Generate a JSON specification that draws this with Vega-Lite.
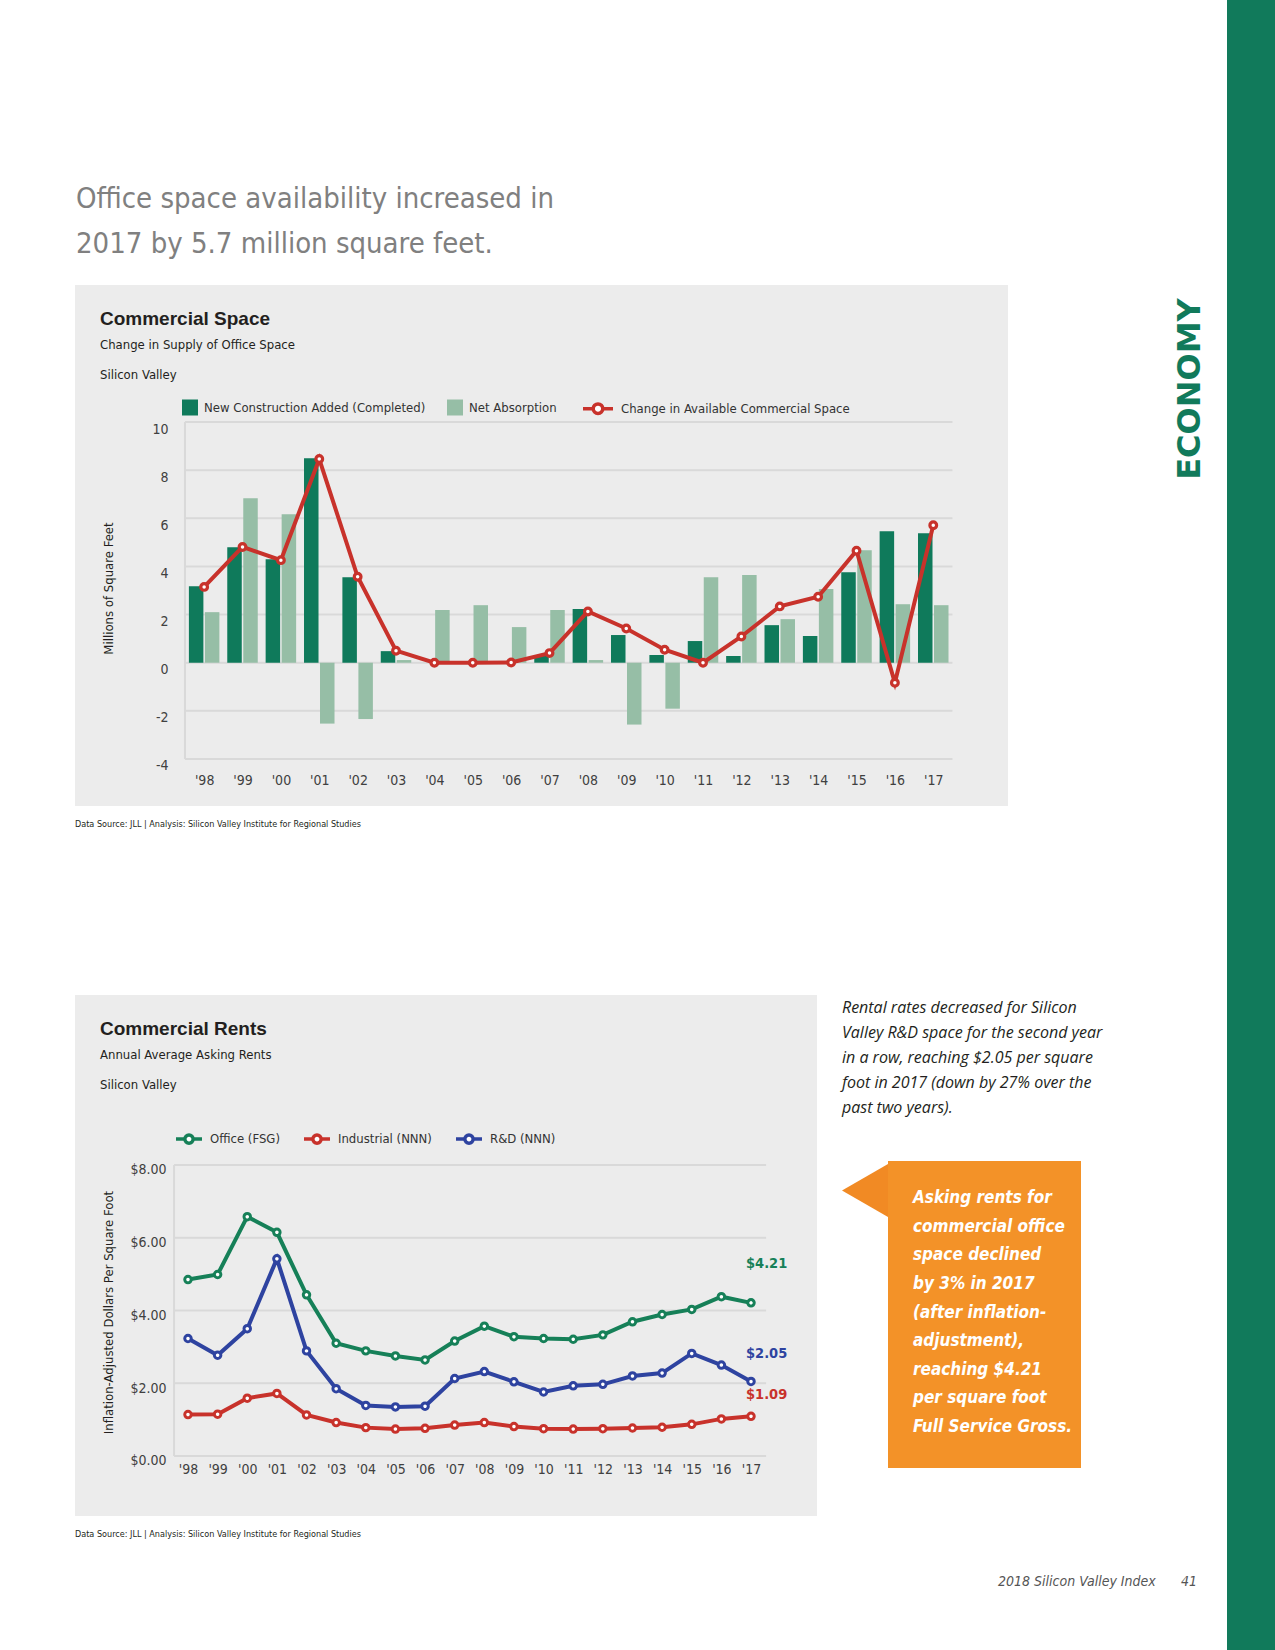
{
  "$schema": "https://vega.github.io/schema/vega-lite/v6.json",
  "background": "white",
  "padding": {"left": 75, "top": 0, "right": 0, "bottom": 0},
  "spacing": 0,
  "resolve": {"scale": {"fill": "independent", "stroke": "independent"}, "legend": {"fill": "independent", "stroke": "independent"}},
  "config": {
    "view": {"stroke": null},
    "font": "DejaVu Sans Condensed, Liberation Sans",
    "axis": {"labelFont": "DejaVu Sans Condensed, Liberation Sans", "titleFont": "DejaVu Sans Condensed, Liberation Sans"},
    "legend": {"labelFont": "DejaVu Sans Condensed, Liberation Sans"}
  },
  "datasets": {
    "space": [
      {"year": 1998, "construction": 3.18, "absorption": 2.10, "change": 3.15},
      {"year": 1999, "construction": 4.80, "absorption": 6.83, "change": 4.81},
      {"year": 2000, "construction": 4.30, "absorption": 6.17, "change": 4.26},
      {"year": 2001, "construction": 8.49, "absorption": -2.53, "change": 8.46},
      {"year": 2002, "construction": 3.55, "absorption": -2.34, "change": 3.57},
      {"year": 2003, "construction": 0.48, "absorption": 0.11, "change": 0.50},
      {"year": 2004, "construction": 0, "absorption": 2.19, "change": 0},
      {"year": 2005, "construction": 0, "absorption": 2.39, "change": 0},
      {"year": 2006, "construction": 0, "absorption": 1.48, "change": 0.01},
      {"year": 2007, "construction": 0.32, "absorption": 2.19, "change": 0.40},
      {"year": 2008, "construction": 2.23, "absorption": 0.11, "change": 2.13},
      {"year": 2009, "construction": 1.15, "absorption": -2.57, "change": 1.42},
      {"year": 2010, "construction": 0.32, "absorption": -1.91, "change": 0.54},
      {"year": 2011, "construction": 0.90, "absorption": 3.55, "change": 0},
      {"year": 2012, "construction": 0.28, "absorption": 3.64, "change": 1.09},
      {"year": 2013, "construction": 1.56, "absorption": 1.81, "change": 2.34},
      {"year": 2014, "construction": 1.11, "absorption": 3.06, "change": 2.74},
      {"year": 2015, "construction": 3.76, "absorption": 4.67, "change": 4.65},
      {"year": 2016, "construction": 5.46, "absorption": 2.43, "change": -0.83},
      {"year": 2017, "construction": 5.38, "absorption": 2.39, "change": 5.71}
    ],
    "rents": [
      {"year": 1998, "office": 4.85, "industrial": 1.14, "rd": 3.23},
      {"year": 1999, "office": 4.99, "industrial": 1.15, "rd": 2.77},
      {"year": 2000, "office": 6.58, "industrial": 1.59, "rd": 3.50},
      {"year": 2001, "office": 6.15, "industrial": 1.72, "rd": 5.42},
      {"year": 2002, "office": 4.43, "industrial": 1.13, "rd": 2.89},
      {"year": 2003, "office": 3.10, "industrial": 0.92, "rd": 1.85},
      {"year": 2004, "office": 2.89, "industrial": 0.78, "rd": 1.39},
      {"year": 2005, "office": 2.75, "industrial": 0.74, "rd": 1.35},
      {"year": 2006, "office": 2.64, "industrial": 0.76, "rd": 1.37},
      {"year": 2007, "office": 3.16, "industrial": 0.85, "rd": 2.13},
      {"year": 2008, "office": 3.57, "industrial": 0.92, "rd": 2.32},
      {"year": 2009, "office": 3.28, "industrial": 0.81, "rd": 2.04},
      {"year": 2010, "office": 3.23, "industrial": 0.75, "rd": 1.76},
      {"year": 2011, "office": 3.21, "industrial": 0.74, "rd": 1.93},
      {"year": 2012, "office": 3.33, "industrial": 0.75, "rd": 1.97},
      {"year": 2013, "office": 3.69, "industrial": 0.77, "rd": 2.20},
      {"year": 2014, "office": 3.89, "industrial": 0.79, "rd": 2.28},
      {"year": 2015, "office": 4.03, "industrial": 0.87, "rd": 2.82},
      {"year": 2016, "office": 4.38, "industrial": 1.02, "rd": 2.50},
      {"year": 2017, "office": 4.21, "industrial": 1.09, "rd": 2.05}
    ],
    "grid1": [{"v": -4}, {"v": -2}, {"v": 0}, {"v": 2}, {"v": 4}, {"v": 6}, {"v": 8}, {"v": 10}],
    "grid2": [{"v": 0}, {"v": 2}, {"v": 4}, {"v": 6}, {"v": 8}]
  },
  "hconcat": [
    {
      "spacing": 0,
      "resolve": {"scale": {"fill": "independent", "stroke": "independent"}, "legend": {"fill": "independent", "stroke": "independent"}},
      "vconcat": [
        {
          "width": 933, "height": 285,
          "data": {"values": []},
          "mark": {"type": "point", "opacity": 0},
          "title": {
            "text": ["Office space availability increased in", "2017 by 5.7 million square feet."],
            "orient": "bottom", "anchor": "start", "frame": "group", "offset": -100, "dx": 1,
            "font": "DejaVu Sans Condensed, Liberation Sans", "fontSize": 29, "fontWeight": "normal", "color": "#808080", "lineHeight": 45
          }
        },
        {
          "spacing": 0,
          "resolve": {"scale": {"fill": "independent", "stroke": "independent"}, "legend": {"fill": "independent", "stroke": "independent"}},
          "hconcat": [
            {
              "width": 933, "height": 521,
              "view": {"fill": "#ececec", "stroke": null},
              "title": {
                "text": "Commercial Space",
                "subtitle": ["Change in Supply of Office Space", "Silicon Valley"],
                "orient": "top", "anchor": "start", "frame": "group", "offset": -96.5, "dx": 25,
                "font": "Liberation Sans", "fontSize": 19, "fontWeight": "bold", "color": "#231f20",
                "subtitleFont": "DejaVu Sans Condensed, Liberation Sans", "subtitleFontSize": 13, "subtitleColor": "#231f20",
                "subtitleLineHeight": 30, "subtitlePadding": 9.5
              },
              "data": {"name": "space"},
              "layer": [
                {
                  "data": {"name": "grid1"},
                  "mark": {"type": "rule", "color": "#d9d9d9", "strokeWidth": 2},
                  "encoding": {
                    "y": {"field": "v", "type": "quantitative", "scale": {"domain": [-5.953, 15.692], "nice": false, "zero": false},
                      "axis": {"orient": "left", "offset": -106, "values": [-4, -2, 0, 2, 4, 6, 8, 10], "labelExpr": "toString(datum.value)", "grid": false, "domain": false, "ticks": false, "labelPadding": 13, "labelFontSize": 14, "labelColor": "#404040", "labelBaseline": "middle", "labelOffset": 7, "labelFlush": false, "labelOverlap": false, "labelBound": false, "title": "Millions of Square Feet", "titleX": -73, "titleY": 303, "titleAngle": 270, "titleAlign": "center", "titleBaseline": "middle", "titleFontSize": 13, "titleFontWeight": "normal", "titleColor": "#231f20"}},
                    "x": {"datum": 1997.5, "type": "quantitative", "scale": {"domain": [1994.765, 2018.8175], "nice": false, "zero": false},
                      "axis": {"orient": "bottom", "offset": -47, "title": null, "values": [1998, 1999, 2000, 2001, 2002, 2003, 2004, 2005, 2006, 2007, 2008, 2009, 2010, 2011, 2012, 2013, 2014, 2015, 2016, 2017], "labelExpr": "\"'\" + substring(toString(datum.value), 2)", "grid": false, "domain": false, "ticks": false, "labelPadding": 14, "labelFontSize": 14, "labelColor": "#404040", "labelFlush": false, "labelOverlap": false, "labelBound": false}},
                    "x2": {"datum": 2017.5}
                  }
                },
                {
                  "data": {"values": [{"line": "y axis"}]},
                  "mark": {"type": "rule", "color": "#d9d9d9", "strokeWidth": 2},
                  "encoding": {
                    "x": {"datum": 1997.5, "type": "quantitative",
                      "axis": {"orient": "bottom", "offset": -47, "title": null, "values": [1998, 1999, 2000, 2001, 2002, 2003, 2004, 2005, 2006, 2007, 2008, 2009, 2010, 2011, 2012, 2013, 2014, 2015, 2016, 2017], "labelExpr": "\"'\" + substring(toString(datum.value), 2)", "grid": false, "domain": false, "ticks": false, "labelPadding": 14, "labelFontSize": 14, "labelColor": "#404040", "labelFlush": false, "labelOverlap": false, "labelBound": false}},
                    "y": {"datum": -4, "type": "quantitative",
                      "axis": {"orient": "left", "offset": -106, "values": [-4, -2, 0, 2, 4, 6, 8, 10], "labelExpr": "toString(datum.value)", "grid": false, "domain": false, "ticks": false, "labelPadding": 13, "labelFontSize": 14, "labelColor": "#404040", "labelBaseline": "middle", "labelOffset": 7, "labelFlush": false, "labelOverlap": false, "labelBound": false, "title": "Millions of Square Feet", "titleX": -73, "titleY": 303, "titleAngle": 270, "titleAlign": "center", "titleBaseline": "middle", "titleFontSize": 13, "titleFontWeight": "normal", "titleColor": "#231f20"}},
                    "y2": {"datum": 10}
                  }
                },
                {
                  "mark": {"type": "bar", "width": 14.5, "xOffset": -8},
                  "encoding": {
                    "x": {"field": "year", "type": "quantitative",
                      "axis": {"orient": "bottom", "offset": -47, "title": null, "values": [1998, 1999, 2000, 2001, 2002, 2003, 2004, 2005, 2006, 2007, 2008, 2009, 2010, 2011, 2012, 2013, 2014, 2015, 2016, 2017], "labelExpr": "\"'\" + substring(toString(datum.value), 2)", "grid": false, "domain": false, "ticks": false, "labelPadding": 14, "labelFontSize": 14, "labelColor": "#404040", "labelFlush": false, "labelOverlap": false, "labelBound": false}},
                    "y": {"field": "construction", "type": "quantitative",
                      "axis": {"orient": "left", "offset": -106, "values": [-4, -2, 0, 2, 4, 6, 8, 10], "labelExpr": "toString(datum.value)", "grid": false, "domain": false, "ticks": false, "labelPadding": 13, "labelFontSize": 14, "labelColor": "#404040", "labelBaseline": "middle", "labelOffset": 7, "labelFlush": false, "labelOverlap": false, "labelBound": false, "title": "Millions of Square Feet", "titleX": -73, "titleY": 303, "titleAngle": 270, "titleAlign": "center", "titleBaseline": "middle", "titleFontSize": 13, "titleFontWeight": "normal", "titleColor": "#231f20"}},
                    "y2": {"datum": 0},
                    "fill": {
                      "datum": "New Construction Added (Completed)", "type": "nominal",
                      "scale": {"domain": ["New Construction Added (Completed)", "Net Absorption"], "range": ["#0f7a5b", "#96bea6"]},
                      "legend": {
                        "orient": "none", "legendX": 107, "legendY": 114.5, "direction": "horizontal",
                        "title": null, "symbolType": "square", "symbolSize": 256, "symbolStrokeWidth": 0,
                        "labelFontSize": 13, "labelColor": "#333333", "labelOffset": 6,
                        "columnPadding": 21, "padding": 0, "labelLimit": 400
                      }
                    }
                  }
                },
                {
                  "mark": {"type": "bar", "width": 14.5, "xOffset": 8},
                  "encoding": {
                    "x": {"field": "year", "type": "quantitative",
                      "axis": {"orient": "bottom", "offset": -47, "title": null, "values": [1998, 1999, 2000, 2001, 2002, 2003, 2004, 2005, 2006, 2007, 2008, 2009, 2010, 2011, 2012, 2013, 2014, 2015, 2016, 2017], "labelExpr": "\"'\" + substring(toString(datum.value), 2)", "grid": false, "domain": false, "ticks": false, "labelPadding": 14, "labelFontSize": 14, "labelColor": "#404040", "labelFlush": false, "labelOverlap": false, "labelBound": false}},
                    "y": {"field": "absorption", "type": "quantitative",
                      "axis": {"orient": "left", "offset": -106, "values": [-4, -2, 0, 2, 4, 6, 8, 10], "labelExpr": "toString(datum.value)", "grid": false, "domain": false, "ticks": false, "labelPadding": 13, "labelFontSize": 14, "labelColor": "#404040", "labelBaseline": "middle", "labelOffset": 7, "labelFlush": false, "labelOverlap": false, "labelBound": false, "title": "Millions of Square Feet", "titleX": -73, "titleY": 303, "titleAngle": 270, "titleAlign": "center", "titleBaseline": "middle", "titleFontSize": 13, "titleFontWeight": "normal", "titleColor": "#231f20"}},
                    "y2": {"datum": 0},
                    "fill": {"datum": "Net Absorption", "type": "nominal"}
                  }
                },
                {
                  "mark": {"type": "line", "strokeWidth": 4},
                  "encoding": {
                    "x": {"field": "year", "type": "quantitative",
                      "axis": {"orient": "bottom", "offset": -47, "title": null, "values": [1998, 1999, 2000, 2001, 2002, 2003, 2004, 2005, 2006, 2007, 2008, 2009, 2010, 2011, 2012, 2013, 2014, 2015, 2016, 2017], "labelExpr": "\"'\" + substring(toString(datum.value), 2)", "grid": false, "domain": false, "ticks": false, "labelPadding": 14, "labelFontSize": 14, "labelColor": "#404040", "labelFlush": false, "labelOverlap": false, "labelBound": false}},
                    "y": {"field": "change", "type": "quantitative",
                      "axis": {"orient": "left", "offset": -106, "values": [-4, -2, 0, 2, 4, 6, 8, 10], "labelExpr": "toString(datum.value)", "grid": false, "domain": false, "ticks": false, "labelPadding": 13, "labelFontSize": 14, "labelColor": "#404040", "labelBaseline": "middle", "labelOffset": 7, "labelFlush": false, "labelOverlap": false, "labelBound": false, "title": "Millions of Square Feet", "titleX": -73, "titleY": 303, "titleAngle": 270, "titleAlign": "center", "titleBaseline": "middle", "titleFontSize": 13, "titleFontWeight": "normal", "titleColor": "#231f20"}},
                    "stroke": {
                      "datum": "Change in Available Commercial Space", "type": "nominal",
                      "scale": {"domain": ["Change in Available Commercial Space"], "range": ["#c8322b"]},
                      "legend": {
                        "orient": "none", "legendX": 506, "legendY": 106.7, "direction": "horizontal",
                        "title": null,
                        "symbolType": "M-1,0H-0.32M0.32,0H1M-0.32,0A0.32,0.32,0,1,1,0.32,0A0.32,0.32,0,1,1,-0.32,0",
                        "symbolSize": 900, "symbolStrokeWidth": 3.5, "symbolFillColor": "white",
                        "labelFontSize": 13, "labelColor": "#333333", "labelOffset": 6, "padding": 0, "labelLimit": 400,
                        "encode": {"symbols": {"update": {"fill": {"value": "white"}, "opacity": {"value": 1}, "strokeWidth": {"value": 3.5}}}}
                      }
                    }
                  }
                },
                {
                  "mark": {"type": "point", "shape": "circle", "filled": true, "fill": "white", "size": 45, "strokeWidth": 3.2, "opacity": 1},
                  "encoding": {
                    "x": {"field": "year", "type": "quantitative",
                      "axis": {"orient": "bottom", "offset": -47, "title": null, "values": [1998, 1999, 2000, 2001, 2002, 2003, 2004, 2005, 2006, 2007, 2008, 2009, 2010, 2011, 2012, 2013, 2014, 2015, 2016, 2017], "labelExpr": "\"'\" + substring(toString(datum.value), 2)", "grid": false, "domain": false, "ticks": false, "labelPadding": 14, "labelFontSize": 14, "labelColor": "#404040", "labelFlush": false, "labelOverlap": false, "labelBound": false}},
                    "y": {"field": "change", "type": "quantitative",
                      "axis": {"orient": "left", "offset": -106, "values": [-4, -2, 0, 2, 4, 6, 8, 10], "labelExpr": "toString(datum.value)", "grid": false, "domain": false, "ticks": false, "labelPadding": 13, "labelFontSize": 14, "labelColor": "#404040", "labelBaseline": "middle", "labelOffset": 7, "labelFlush": false, "labelOverlap": false, "labelBound": false, "title": "Millions of Square Feet", "titleX": -73, "titleY": 303, "titleAngle": 270, "titleAlign": "center", "titleBaseline": "middle", "titleFontSize": 13, "titleFontWeight": "normal", "titleColor": "#231f20"}},
                    "stroke": {"datum": "Change in Available Commercial Space", "type": "nominal"}
                  }
                }
              ]
            },
            {
              "width": 219, "height": 521,
              "data": {"values": []},
              "mark": {"type": "point", "opacity": 0},
              "title": {
                "text": "ECONOMY", "orient": "left", "anchor": "middle", "frame": "group",
                "offset": -198.7, "dx": 156.5,
                "font": "DejaVu Sans", "fontSize": 32, "fontWeight": "bold", "color": "#117a5b"
              }
            }
          ]
        },
        {
          "width": 933, "height": 189,
          "data": {"values": []},
          "mark": {"type": "point", "opacity": 0},
          "title": {
            "text": "Data Source: JLL | Analysis: Silicon Valley Institute for Regional Studies",
            "orient": "top", "anchor": "start", "frame": "group", "offset": -22.5,
            "font": "DejaVu Sans Condensed, Liberation Sans", "fontSize": 9, "fontWeight": "normal", "color": "#231f20"
          }
        },
        {
          "spacing": 0,
          "resolve": {"scale": {"fill": "independent", "stroke": "independent"}, "legend": {"fill": "independent", "stroke": "independent"}},
          "hconcat": [
            {
              "spacing": 0,
              "resolve": {"scale": {"fill": "independent", "stroke": "independent"}, "legend": {"fill": "independent", "stroke": "independent"}},
              "vconcat": [
                {
                  "width": 742, "height": 521,
                  "view": {"fill": "#ececec", "stroke": null},
                  "title": {
                    "text": "Commercial Rents",
                    "subtitle": ["Annual Average Asking Rents", "Silicon Valley"],
                    "orient": "top", "anchor": "start", "frame": "group", "offset": -96.5, "dx": 25,
                    "font": "Liberation Sans", "fontSize": 19, "fontWeight": "bold", "color": "#231f20",
                    "subtitleFont": "DejaVu Sans Condensed, Liberation Sans", "subtitleFontSize": 13, "subtitleColor": "#231f20",
                    "subtitleLineHeight": 30, "subtitlePadding": 9.5
                  },
                  "data": {"name": "rents"},
                  "layer": [
                    {
                      "data": {"name": "grid2"},
                      "mark": {"type": "rule", "color": "#d9d9d9", "strokeWidth": 2},
                      "encoding": {
                        "y": {"field": "v", "type": "quantitative", "scale": {"domain": [-1.6495, 12.6735], "nice": false, "zero": false},
                          "axis": {"orient": "left", "offset": -99, "format": "$.2f", "values": [0, 2, 4, 6, 8], "grid": false, "domain": false, "ticks": false, "labelPadding": 8, "labelFontSize": 14, "labelColor": "#404040", "labelBaseline": "middle", "labelOffset": 5, "labelFlush": false, "labelOverlap": false, "labelBound": false, "title": "Inflation-Adjusted Dollars Per Square Foot", "titleX": -66, "titleY": 317, "titleAngle": 270, "titleAlign": "center", "titleBaseline": "middle", "titleFontSize": 13, "titleFontWeight": "normal", "titleColor": "#231f20"}},
                        "x": {"datum": 1997.53, "type": "quantitative", "scale": {"domain": [1994.187, 2019.227], "nice": false, "zero": false},
                          "axis": {"orient": "bottom", "offset": -60, "title": null, "values": [1998, 1999, 2000, 2001, 2002, 2003, 2004, 2005, 2006, 2007, 2008, 2009, 2010, 2011, 2012, 2013, 2014, 2015, 2016, 2017], "labelExpr": "\"'\" + substring(toString(datum.value), 2)", "grid": false, "domain": false, "ticks": false, "labelPadding": 6, "labelFontSize": 14, "labelColor": "#404040", "labelFlush": false, "labelOverlap": false, "labelBound": false}},
                        "x2": {"datum": 2017.51}
                      }
                    },
                    {
                      "data": {"values": [{"line": "y axis"}]},
                      "mark": {"type": "rule", "color": "#d9d9d9", "strokeWidth": 2},
                      "encoding": {
                        "x": {"datum": 1997.53, "type": "quantitative",
                          "axis": {"orient": "bottom", "offset": -60, "title": null, "values": [1998, 1999, 2000, 2001, 2002, 2003, 2004, 2005, 2006, 2007, 2008, 2009, 2010, 2011, 2012, 2013, 2014, 2015, 2016, 2017], "labelExpr": "\"'\" + substring(toString(datum.value), 2)", "grid": false, "domain": false, "ticks": false, "labelPadding": 6, "labelFontSize": 14, "labelColor": "#404040", "labelFlush": false, "labelOverlap": false, "labelBound": false}},
                        "y": {"datum": 0, "type": "quantitative",
                          "axis": {"orient": "left", "offset": -99, "format": "$.2f", "values": [0, 2, 4, 6, 8], "grid": false, "domain": false, "ticks": false, "labelPadding": 8, "labelFontSize": 14, "labelColor": "#404040", "labelBaseline": "middle", "labelOffset": 5, "labelFlush": false, "labelOverlap": false, "labelBound": false, "title": "Inflation-Adjusted Dollars Per Square Foot", "titleX": -66, "titleY": 317, "titleAngle": 270, "titleAlign": "center", "titleBaseline": "middle", "titleFontSize": 13, "titleFontWeight": "normal", "titleColor": "#231f20"}},
                        "y2": {"datum": 8}
                      }
                    },
                    {
                      "mark": {"type": "line", "strokeWidth": 4},
                      "encoding": {
                        "x": {"field": "year", "type": "quantitative",
                          "axis": {"orient": "bottom", "offset": -60, "title": null, "values": [1998, 1999, 2000, 2001, 2002, 2003, 2004, 2005, 2006, 2007, 2008, 2009, 2010, 2011, 2012, 2013, 2014, 2015, 2016, 2017], "labelExpr": "\"'\" + substring(toString(datum.value), 2)", "grid": false, "domain": false, "ticks": false, "labelPadding": 6, "labelFontSize": 14, "labelColor": "#404040", "labelFlush": false, "labelOverlap": false, "labelBound": false}},
                        "y": {"field": "office", "type": "quantitative",
                          "axis": {"orient": "left", "offset": -99, "format": "$.2f", "values": [0, 2, 4, 6, 8], "grid": false, "domain": false, "ticks": false, "labelPadding": 8, "labelFontSize": 14, "labelColor": "#404040", "labelBaseline": "middle", "labelOffset": 5, "labelFlush": false, "labelOverlap": false, "labelBound": false, "title": "Inflation-Adjusted Dollars Per Square Foot", "titleX": -66, "titleY": 317, "titleAngle": 270, "titleAlign": "center", "titleBaseline": "middle", "titleFontSize": 13, "titleFontWeight": "normal", "titleColor": "#231f20"}},
                        "stroke": {
                          "datum": "Office (FSG)", "type": "nominal",
                          "scale": {"domain": ["Office (FSG)", "Industrial (NNN)", "R&D (NNN)"], "range": ["#168058", "#c8322b", "#2e43a0"]},
                          "legend": {
                            "orient": "none", "legendX": 99, "legendY": 128.7, "direction": "horizontal",
                            "title": null,
                            "symbolType": "M-1,0H-0.32M0.32,0H1M-0.32,0A0.32,0.32,0,1,1,0.32,0A0.32,0.32,0,1,1,-0.32,0",
                            "symbolSize": 676, "symbolStrokeWidth": 3.5, "symbolFillColor": "white",
                            "labelFontSize": 13, "labelColor": "#333333", "labelOffset": 6,
                            "columnPadding": 17, "padding": 0, "labelLimit": 400,
                            "encode": {"symbols": {"update": {"fill": {"value": "white"}, "opacity": {"value": 1}, "strokeWidth": {"value": 3.5}}}}
                          }
                        }
                      }
                    },
                    {
                      "mark": {"type": "line", "strokeWidth": 4},
                      "encoding": {
                        "x": {"field": "year", "type": "quantitative",
                          "axis": {"orient": "bottom", "offset": -60, "title": null, "values": [1998, 1999, 2000, 2001, 2002, 2003, 2004, 2005, 2006, 2007, 2008, 2009, 2010, 2011, 2012, 2013, 2014, 2015, 2016, 2017], "labelExpr": "\"'\" + substring(toString(datum.value), 2)", "grid": false, "domain": false, "ticks": false, "labelPadding": 6, "labelFontSize": 14, "labelColor": "#404040", "labelFlush": false, "labelOverlap": false, "labelBound": false}},
                        "y": {"field": "industrial", "type": "quantitative",
                          "axis": {"orient": "left", "offset": -99, "format": "$.2f", "values": [0, 2, 4, 6, 8], "grid": false, "domain": false, "ticks": false, "labelPadding": 8, "labelFontSize": 14, "labelColor": "#404040", "labelBaseline": "middle", "labelOffset": 5, "labelFlush": false, "labelOverlap": false, "labelBound": false, "title": "Inflation-Adjusted Dollars Per Square Foot", "titleX": -66, "titleY": 317, "titleAngle": 270, "titleAlign": "center", "titleBaseline": "middle", "titleFontSize": 13, "titleFontWeight": "normal", "titleColor": "#231f20"}},
                        "stroke": {"datum": "Industrial (NNN)", "type": "nominal"}
                      }
                    },
                    {
                      "mark": {"type": "line", "strokeWidth": 4},
                      "encoding": {
                        "x": {"field": "year", "type": "quantitative",
                          "axis": {"orient": "bottom", "offset": -60, "title": null, "values": [1998, 1999, 2000, 2001, 2002, 2003, 2004, 2005, 2006, 2007, 2008, 2009, 2010, 2011, 2012, 2013, 2014, 2015, 2016, 2017], "labelExpr": "\"'\" + substring(toString(datum.value), 2)", "grid": false, "domain": false, "ticks": false, "labelPadding": 6, "labelFontSize": 14, "labelColor": "#404040", "labelFlush": false, "labelOverlap": false, "labelBound": false}},
                        "y": {"field": "rd", "type": "quantitative",
                          "axis": {"orient": "left", "offset": -99, "format": "$.2f", "values": [0, 2, 4, 6, 8], "grid": false, "domain": false, "ticks": false, "labelPadding": 8, "labelFontSize": 14, "labelColor": "#404040", "labelBaseline": "middle", "labelOffset": 5, "labelFlush": false, "labelOverlap": false, "labelBound": false, "title": "Inflation-Adjusted Dollars Per Square Foot", "titleX": -66, "titleY": 317, "titleAngle": 270, "titleAlign": "center", "titleBaseline": "middle", "titleFontSize": 13, "titleFontWeight": "normal", "titleColor": "#231f20"}},
                        "stroke": {"datum": "R&D (NNN)", "type": "nominal"}
                      }
                    },
                    {
                      "mark": {"type": "point", "shape": "circle", "filled": true, "fill": "white", "size": 42, "strokeWidth": 3, "opacity": 1},
                      "encoding": {
                        "x": {"field": "year", "type": "quantitative",
                          "axis": {"orient": "bottom", "offset": -60, "title": null, "values": [1998, 1999, 2000, 2001, 2002, 2003, 2004, 2005, 2006, 2007, 2008, 2009, 2010, 2011, 2012, 2013, 2014, 2015, 2016, 2017], "labelExpr": "\"'\" + substring(toString(datum.value), 2)", "grid": false, "domain": false, "ticks": false, "labelPadding": 6, "labelFontSize": 14, "labelColor": "#404040", "labelFlush": false, "labelOverlap": false, "labelBound": false}},
                        "y": {"field": "office", "type": "quantitative",
                          "axis": {"orient": "left", "offset": -99, "format": "$.2f", "values": [0, 2, 4, 6, 8], "grid": false, "domain": false, "ticks": false, "labelPadding": 8, "labelFontSize": 14, "labelColor": "#404040", "labelBaseline": "middle", "labelOffset": 5, "labelFlush": false, "labelOverlap": false, "labelBound": false, "title": "Inflation-Adjusted Dollars Per Square Foot", "titleX": -66, "titleY": 317, "titleAngle": 270, "titleAlign": "center", "titleBaseline": "middle", "titleFontSize": 13, "titleFontWeight": "normal", "titleColor": "#231f20"}},
                        "stroke": {"datum": "Office (FSG)", "type": "nominal"}
                      }
                    },
                    {
                      "mark": {"type": "point", "shape": "circle", "filled": true, "fill": "white", "size": 42, "strokeWidth": 3, "opacity": 1},
                      "encoding": {
                        "x": {"field": "year", "type": "quantitative",
                          "axis": {"orient": "bottom", "offset": -60, "title": null, "values": [1998, 1999, 2000, 2001, 2002, 2003, 2004, 2005, 2006, 2007, 2008, 2009, 2010, 2011, 2012, 2013, 2014, 2015, 2016, 2017], "labelExpr": "\"'\" + substring(toString(datum.value), 2)", "grid": false, "domain": false, "ticks": false, "labelPadding": 6, "labelFontSize": 14, "labelColor": "#404040", "labelFlush": false, "labelOverlap": false, "labelBound": false}},
                        "y": {"field": "industrial", "type": "quantitative",
                          "axis": {"orient": "left", "offset": -99, "format": "$.2f", "values": [0, 2, 4, 6, 8], "grid": false, "domain": false, "ticks": false, "labelPadding": 8, "labelFontSize": 14, "labelColor": "#404040", "labelBaseline": "middle", "labelOffset": 5, "labelFlush": false, "labelOverlap": false, "labelBound": false, "title": "Inflation-Adjusted Dollars Per Square Foot", "titleX": -66, "titleY": 317, "titleAngle": 270, "titleAlign": "center", "titleBaseline": "middle", "titleFontSize": 13, "titleFontWeight": "normal", "titleColor": "#231f20"}},
                        "stroke": {"datum": "Industrial (NNN)", "type": "nominal"}
                      }
                    },
                    {
                      "mark": {"type": "point", "shape": "circle", "filled": true, "fill": "white", "size": 42, "strokeWidth": 3, "opacity": 1},
                      "encoding": {
                        "x": {"field": "year", "type": "quantitative",
                          "axis": {"orient": "bottom", "offset": -60, "title": null, "values": [1998, 1999, 2000, 2001, 2002, 2003, 2004, 2005, 2006, 2007, 2008, 2009, 2010, 2011, 2012, 2013, 2014, 2015, 2016, 2017], "labelExpr": "\"'\" + substring(toString(datum.value), 2)", "grid": false, "domain": false, "ticks": false, "labelPadding": 6, "labelFontSize": 14, "labelColor": "#404040", "labelFlush": false, "labelOverlap": false, "labelBound": false}},
                        "y": {"field": "rd", "type": "quantitative",
                          "axis": {"orient": "left", "offset": -99, "format": "$.2f", "values": [0, 2, 4, 6, 8], "grid": false, "domain": false, "ticks": false, "labelPadding": 8, "labelFontSize": 14, "labelColor": "#404040", "labelBaseline": "middle", "labelOffset": 5, "labelFlush": false, "labelOverlap": false, "labelBound": false, "title": "Inflation-Adjusted Dollars Per Square Foot", "titleX": -66, "titleY": 317, "titleAngle": 270, "titleAlign": "center", "titleBaseline": "middle", "titleFontSize": 13, "titleFontWeight": "normal", "titleColor": "#231f20"}},
                        "stroke": {"datum": "R&D (NNN)", "type": "nominal"}
                      }
                    },
                    {
                      "transform": [{"filter": "datum.year == 2017"}],
                      "mark": {"type": "text", "align": "left", "baseline": "middle", "dx": -5, "dy": -39, "fontSize": 14.5, "fontWeight": "bold", "color": "#168058", "font": "DejaVu Sans Condensed, Liberation Sans"},
                      "encoding": {
                        "x": {"field": "year", "type": "quantitative",
                          "axis": {"orient": "bottom", "offset": -60, "title": null, "values": [1998, 1999, 2000, 2001, 2002, 2003, 2004, 2005, 2006, 2007, 2008, 2009, 2010, 2011, 2012, 2013, 2014, 2015, 2016, 2017], "labelExpr": "\"'\" + substring(toString(datum.value), 2)", "grid": false, "domain": false, "ticks": false, "labelPadding": 6, "labelFontSize": 14, "labelColor": "#404040", "labelFlush": false, "labelOverlap": false, "labelBound": false}},
                        "y": {"field": "office", "type": "quantitative",
                          "axis": {"orient": "left", "offset": -99, "format": "$.2f", "values": [0, 2, 4, 6, 8], "grid": false, "domain": false, "ticks": false, "labelPadding": 8, "labelFontSize": 14, "labelColor": "#404040", "labelBaseline": "middle", "labelOffset": 5, "labelFlush": false, "labelOverlap": false, "labelBound": false, "title": "Inflation-Adjusted Dollars Per Square Foot", "titleX": -66, "titleY": 317, "titleAngle": 270, "titleAlign": "center", "titleBaseline": "middle", "titleFontSize": 13, "titleFontWeight": "normal", "titleColor": "#231f20"}},
                        "text": {"field": "office", "type": "quantitative", "format": "$.2f"}
                      }
                    },
                    {
                      "transform": [{"filter": "datum.year == 2017"}],
                      "mark": {"type": "text", "align": "left", "baseline": "middle", "dx": -5, "dy": -27, "fontSize": 14.5, "fontWeight": "bold", "color": "#2e43a0", "font": "DejaVu Sans Condensed, Liberation Sans"},
                      "encoding": {
                        "x": {"field": "year", "type": "quantitative",
                          "axis": {"orient": "bottom", "offset": -60, "title": null, "values": [1998, 1999, 2000, 2001, 2002, 2003, 2004, 2005, 2006, 2007, 2008, 2009, 2010, 2011, 2012, 2013, 2014, 2015, 2016, 2017], "labelExpr": "\"'\" + substring(toString(datum.value), 2)", "grid": false, "domain": false, "ticks": false, "labelPadding": 6, "labelFontSize": 14, "labelColor": "#404040", "labelFlush": false, "labelOverlap": false, "labelBound": false}},
                        "y": {"field": "rd", "type": "quantitative",
                          "axis": {"orient": "left", "offset": -99, "format": "$.2f", "values": [0, 2, 4, 6, 8], "grid": false, "domain": false, "ticks": false, "labelPadding": 8, "labelFontSize": 14, "labelColor": "#404040", "labelBaseline": "middle", "labelOffset": 5, "labelFlush": false, "labelOverlap": false, "labelBound": false, "title": "Inflation-Adjusted Dollars Per Square Foot", "titleX": -66, "titleY": 317, "titleAngle": 270, "titleAlign": "center", "titleBaseline": "middle", "titleFontSize": 13, "titleFontWeight": "normal", "titleColor": "#231f20"}},
                        "text": {"field": "rd", "type": "quantitative", "format": "$.2f"}
                      }
                    },
                    {
                      "transform": [{"filter": "datum.year == 2017"}],
                      "mark": {"type": "text", "align": "left", "baseline": "middle", "dx": -5, "dy": -21, "fontSize": 14.5, "fontWeight": "bold", "color": "#c8322b", "font": "DejaVu Sans Condensed, Liberation Sans"},
                      "encoding": {
                        "x": {"field": "year", "type": "quantitative",
                          "axis": {"orient": "bottom", "offset": -60, "title": null, "values": [1998, 1999, 2000, 2001, 2002, 2003, 2004, 2005, 2006, 2007, 2008, 2009, 2010, 2011, 2012, 2013, 2014, 2015, 2016, 2017], "labelExpr": "\"'\" + substring(toString(datum.value), 2)", "grid": false, "domain": false, "ticks": false, "labelPadding": 6, "labelFontSize": 14, "labelColor": "#404040", "labelFlush": false, "labelOverlap": false, "labelBound": false}},
                        "y": {"field": "industrial", "type": "quantitative",
                          "axis": {"orient": "left", "offset": -99, "format": "$.2f", "values": [0, 2, 4, 6, 8], "grid": false, "domain": false, "ticks": false, "labelPadding": 8, "labelFontSize": 14, "labelColor": "#404040", "labelBaseline": "middle", "labelOffset": 5, "labelFlush": false, "labelOverlap": false, "labelBound": false, "title": "Inflation-Adjusted Dollars Per Square Foot", "titleX": -66, "titleY": 317, "titleAngle": 270, "titleAlign": "center", "titleBaseline": "middle", "titleFontSize": 13, "titleFontWeight": "normal", "titleColor": "#231f20"}},
                        "text": {"field": "industrial", "type": "quantitative", "format": "$.2f"}
                      }
                    }
                  ]
                },
                {
                  "width": 742, "height": 134,
                  "data": {"values": []},
                  "mark": {"type": "point", "opacity": 0},
                  "title": {
                    "text": "Data Source: JLL | Analysis: Silicon Valley Institute for Regional Studies",
                    "orient": "top", "anchor": "start", "frame": "group", "offset": -22.8,
                    "font": "DejaVu Sans Condensed, Liberation Sans", "fontSize": 9, "fontWeight": "normal", "color": "#231f20"
                  }
                }
              ]
            },
            {
              "spacing": 0,
              "vconcat": [
                {
                  "width": 410, "height": 166,
                  "data": {"values": []},
                  "mark": {"type": "point", "opacity": 0},
                  "title": {
                    "text": ["Rental rates decreased for Silicon", "Valley R&D space for the second year", "in a row, reaching $2.05 per square", "foot in 2017 (down by 27% over the", "past two years)."],
                    "orient": "top", "anchor": "start", "frame": "group", "offset": -121.3, "dx": 25,
                    "font": "Open Sans", "fontSize": 16, "fontStyle": "italic", "fontWeight": "normal",
                    "color": "#231f20", "lineHeight": 25
                  }
                },
                {
                  "spacing": 0,
                  "hconcat": [
                    {
                      "width": 25, "height": 59,
                      "data": {"values": []},
                      "mark": {"type": "point", "opacity": 0}
                    },
                    {
                      "width": 46, "height": 59,
                      "data": {"values": [{"callout": "pointer"}]},
                      "mark": {"type": "point", "shape": "M-1,0L1,-1.15L1,1.15Z", "size": 2116, "filled": true, "fill": "#f18a24", "strokeWidth": 0, "opacity": 1}
                    },
                    {
                      "width": 193, "height": 307,
                      "view": {"fill": "#f39228", "stroke": null},
                      "data": {"values": []},
                      "mark": {"type": "point", "opacity": 0},
                      "title": {
                        "text": ["Asking rents for", "commercial office", "space declined", "by 3% in 2017", "(after inflation-", "adjustment),", "reaching $4.21", "per square foot", "Full Service Gross."],
                        "orient": "top", "anchor": "start", "frame": "group", "offset": -275.1, "dx": 25,
                        "font": "DejaVu Sans Condensed, Liberation Sans", "fontSize": 17, "fontStyle": "italic", "fontWeight": "bold",
                        "color": "white", "lineHeight": 28.6
                      }
                    }
                  ]
                },
                {
                  "width": 410, "height": 182,
                  "data": {"values": []},
                  "mark": {"type": "point", "opacity": 0},
                  "title": {
                    "text": "2018 Silicon Valley Index\u2003\u200341",
                    "orient": "top", "anchor": "end", "frame": "group", "offset": -120.5, "dx": -30,
                    "font": "DejaVu Sans Condensed, Liberation Sans", "fontSize": 14, "fontStyle": "italic", "fontWeight": "normal",
                    "color": "#555555"
                  }
                }
              ]
            }
          ]
        }
      ]
    },
    {
      "width": 48, "height": 1650,
      "view": {"fill": "#117a5b", "stroke": null},
      "data": {"values": []},
      "mark": {"type": "point", "opacity": 0}
    }
  ]
}
